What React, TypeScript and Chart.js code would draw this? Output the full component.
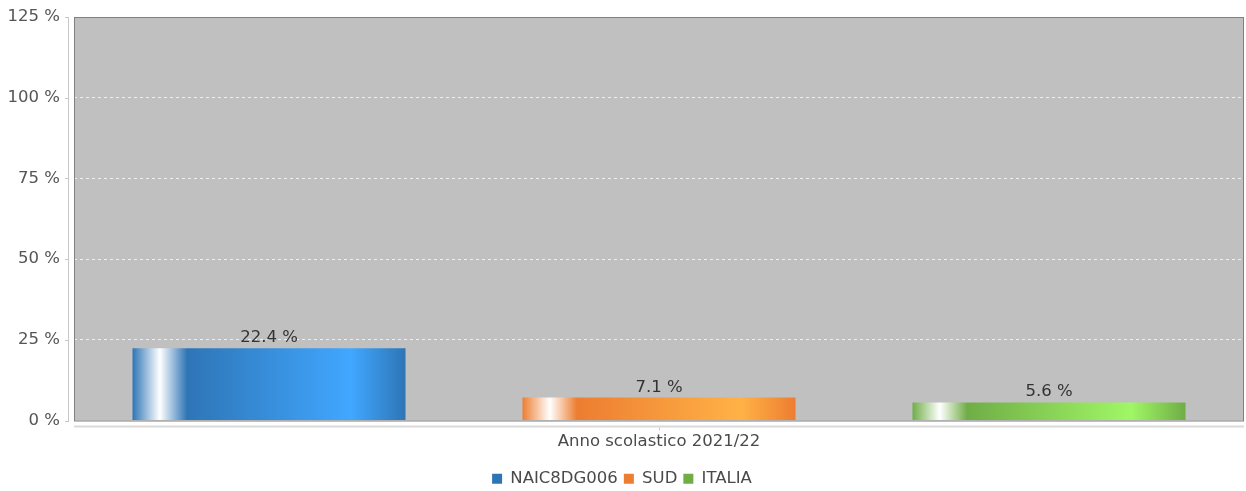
import React, { useEffect, useRef } from "react";
import { Chart, registerables } from "chart.js";

Chart.register(...registerables);

const categories = ["Anno scolastico 2021/22"];
const seriesNames = ["NAIC8DG006", "SUD", "ITALIA"];
const seriesValues = [[22.4], [7.1], [5.6]];
const baseColors = ["#2E75B6", "#ED7D31", "#70AD47"];
const brightColors = ["#41A7FF", "#FFB246", "#A0F765"];
const yTicks = [0, 25, 50, 75, 100, 125];

const FONT = "'DejaVu Sans', sans-serif";
const FS = 16.5;
const CAT_PCT = 1.0;
const BAR_PCT = 0.7;

function barGradient(ctx: any) {
  const chart = ctx.chart;
  const xs = chart.scales?.x;
  const i = ctx.datasetIndex ?? 0;
  if (!xs || !chart.chartArea) return baseColors[i];
  const center = xs.getPixelForValue(0);
  const catW = xs.width * CAT_PCT;
  const slot = catW / seriesNames.length;
  const left0 = center - catW / 2 + slot * i;
  const bw = slot * BAR_PCT;
  const l = left0 + (slot - bw) / 2;
  const g = chart.ctx.createLinearGradient(l, 0, l + bw, 0);
  g.addColorStop(0, baseColors[i]);
  g.addColorStop(0.1, "#FFFFFF");
  g.addColorStop(0.2, baseColors[i]);
  g.addColorStop(0.8, brightColors[i]);
  g.addColorStop(1, baseColors[i]);
  return g;
}

const framePlugin = {
  id: "frame",
  beforeDraw(chart: any) {
    const { ctx, chartArea: a } = chart;
    ctx.save();
    ctx.fillStyle = "#C0C0C0";
    ctx.fillRect(a.left, a.top, a.right - a.left, a.bottom - a.top);
    ctx.restore();
  },
  afterDatasetsDraw(chart: any) {
    const { ctx, chartArea: a } = chart;
    ctx.save();
    ctx.strokeStyle = "#808080";
    ctx.lineWidth = 1;
    ctx.strokeRect(a.left + 0.5, a.top + 0.5, a.right - a.left - 1, a.bottom - a.top);
    const ys = chart.scales.y;
    ctx.strokeStyle = "#C8C8C8";
    ctx.beginPath();
    ctx.moveTo(a.left - 5.5, a.top);
    ctx.lineTo(a.left - 5.5, a.bottom + 1);
    ys.ticks.forEach((t: any) => {
      const y = Math.round(ys.getPixelForValue(t.value)) + 0.5;
      ctx.moveTo(a.left - 9, y);
      ctx.lineTo(a.left - 5, y);
    });
    ctx.stroke();
    const xs = chart.scales.x;
    ctx.strokeStyle = "#DADADA";
    ctx.lineWidth = 2;
    ctx.beginPath();
    ctx.moveTo(a.left, a.bottom + 6);
    ctx.lineTo(a.right, a.bottom + 6);
    ctx.stroke();
    ctx.lineWidth = 1;
    ctx.strokeStyle = "#C8C8C8";
    ctx.beginPath();
    const cx = Math.round(xs.getPixelForValue(0)) + 0.5;
    ctx.moveTo(cx, a.bottom + 7);
    ctx.lineTo(cx, a.bottom + 10);
    ctx.stroke();
    ctx.fillStyle = "#333333";
    ctx.font = FS + "px " + FONT;
    ctx.textAlign = "center";
    ctx.textBaseline = "alphabetic";
    chart.data.datasets.forEach((ds: any, di: number) => {
      const meta = chart.getDatasetMeta(di);
      meta.data.forEach((el: any, j: number) => {
        const v = ds.data[j];
        ctx.fillText(v.toFixed(1) + " %", el.x, el.y - 6);
      });
    });
    ctx.restore();
  },
};

export default function App() {
  const ref = useRef<HTMLCanvasElement>(null);
  useEffect(() => {
    document.body.style.margin = "0";
    const chart = new Chart(ref.current!, {
      type: "bar",
      data: {
        labels: categories,
        datasets: seriesNames.map((name, i) => ({
          label: name,
          data: seriesValues[i],
          backgroundColor: barGradient,
          borderWidth: 0,
          categoryPercentage: CAT_PCT,
          barPercentage: BAR_PCT,
        })),
      },
      options: {
        responsive: false,
        animation: false,
        layout: { padding: { top: 17, right: 2, left: 0, bottom: -6 } },
        plugins: {
          legend: {
            position: "bottom",
            labels: {
              boxWidth: 10,
              boxHeight: 10,
              padding: 6,
              color: "#4A4A4A",
              font: { family: FONT, size: FS },
              generateLabels: () =>
                seriesNames.map((n, i) => ({
                  text: n,
                  fillStyle: baseColors[i],
                  strokeStyle: baseColors[i],
                  lineWidth: 0,
                  datasetIndex: i,
                  fontColor: "#4A4A4A",
                })),
            },
          },
          tooltip: { enabled: false },
        },
        scales: {
          x: {
            grid: { display: false, drawTicks: false },
            border: { display: false },
            ticks: {
              color: "#4A4A4A",
              font: { family: FONT, size: FS },
              padding: 11,
            },
            afterFit: (s: any) => {
              s.height = 44;
            },
          },
          y: {
            min: 0,
            max: 125,
            afterBuildTicks: (s: any) => {
              s.ticks = yTicks.map((v) => ({ value: v }));
            },
            grid: {
              drawTicks: false,
              color: (c: any) =>
                c.tick && (c.tick.value === 0 || c.tick.value === 125)
                  ? "rgba(0,0,0,0)"
                  : "rgba(255,255,255,0.75)",
              lineWidth: 1,
            },
            border: { display: false, dash: [3, 3] },
            ticks: {
              color: "#555555",
              font: { family: FONT, size: FS },
              padding: 14,
              callback: (v: any) => v + " %",
            },
            afterFit: (s: any) => {
              s.width = 74;
              s.paddingTop = 0;
              s.paddingBottom = 0;
            },
          },
        },
      },
      plugins: [framePlugin],
    });
    return () => chart.destroy();
  }, []);
  return (
    <canvas
      ref={ref}
      width={1246}
      height={491}
      style={{ display: "block", width: 1246, height: 491 }}
    />
  );
}
